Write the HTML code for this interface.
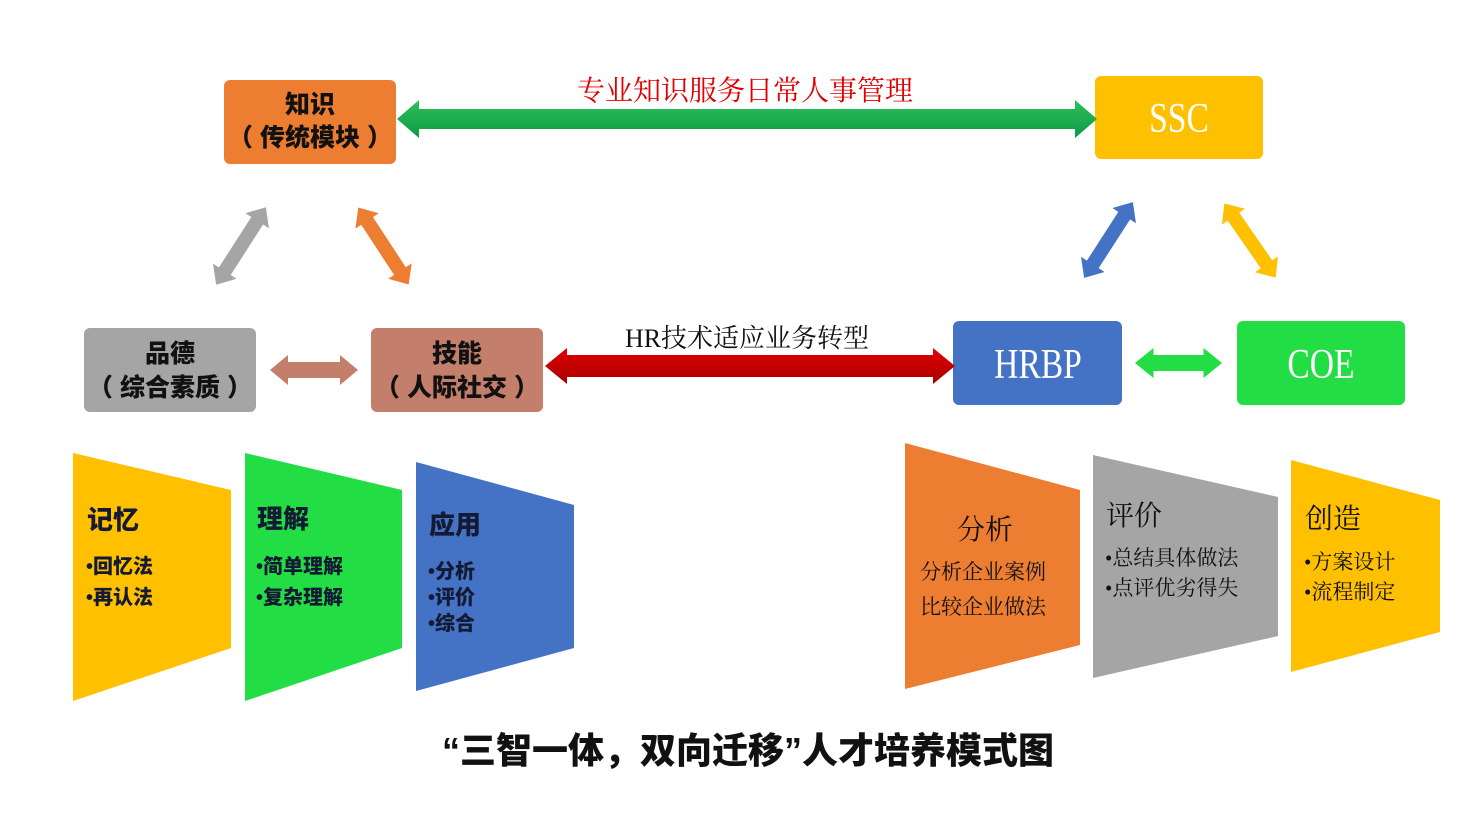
<!DOCTYPE html>
<html><head><meta charset="utf-8"><style>
body{margin:0;background:#fff;}
svg{display:block;}
.b{font-family:"Liberation Sans","Noto Sans CJK SC",sans-serif;font-weight:900;}
.s{font-family:"Liberation Serif","Noto Serif CJK SC",serif;}
</style></head><body>
<svg width="1478" height="832" viewBox="0 0 1478 832" xmlns="http://www.w3.org/2000/svg">
<defs>
<linearGradient id="gg" x1="0" y1="0" x2="0" y2="1"><stop offset="0" stop-color="#2fbf5a"/><stop offset="1" stop-color="#0c9a45"/></linearGradient>
<linearGradient id="rg" x1="0" y1="0" x2="0" y2="1"><stop offset="0" stop-color="#e00000"/><stop offset="1" stop-color="#a80000"/></linearGradient>
</defs>
<rect width="1478" height="832" fill="#fff"/>
<rect x="224" y="80" width="172" height="84" rx="6" fill="#ed7d31"/>
<rect x="1095" y="76" width="168" height="83" rx="6" fill="#ffc000"/>
<rect x="84" y="328" width="172" height="84" rx="6" fill="#a5a5a5"/>
<rect x="371" y="328" width="172" height="84" rx="6" fill="#c47f6c"/>
<rect x="953" y="321" width="169" height="84" rx="6" fill="#4472c4"/>
<rect x="1237" y="321" width="168" height="84" rx="6" fill="#22dd44"/>
<g class="b" font-size="25" fill="#111" text-anchor="middle">
<text x="310" y="113">知识</text><text x="310" y="146">（ 传统模块 ）</text>
<text x="170" y="362">品德</text><text x="170" y="396">（ 综合素质 ）</text>
<text x="457" y="362">技能</text><text x="457" y="396">（ 人际社交 ）</text>
</g>
<g class="s" font-size="42" fill="#fff" text-anchor="middle">
<text x="1179" y="132" transform="translate(1179 132) scale(0.8 1) translate(-1179 -132)">SSC</text>
<text x="1038" y="378" transform="translate(1038 378) scale(0.8 1) translate(-1038 -378)">HRBP</text>
<text x="1321" y="378" transform="translate(1321 378) scale(0.8 1) translate(-1321 -378)">COE</text>
</g>
<polygon fill="url(#gg)" points="397,119 419,100 419,109 1075,109 1075,100 1097,119 1075,138 1075,129 419,129 419,138"/>
<polygon fill="url(#rg)" points="545,366 567,348 567,355 933,355 933,348 955,366 933,384 933,377 567,377 567,384"/>
<text class="s" x="745" y="100" font-size="28" fill="#e00000" text-anchor="middle">专业知识服务日常人事管理</text>
<text class="s" x="747" y="347" font-size="26" fill="#111" text-anchor="middle">HR技术适应业务转型</text>
<g>
<polygon fill="#a5a5a5" transform="translate(241 246) rotate(-57.3)" points="-46,0 -30,-14 -30,-7 30,-7 30,-14 46,0 30,14 30,7 -30,7 -30,14"/>
<polygon fill="#ed7d31" transform="translate(383.5 246) rotate(56.8)" points="-46,0 -30,-14 -30,-7 30,-7 30,-14 46,0 30,14 30,7 -30,7 -30,14"/>
<polygon fill="#4472c4" transform="translate(1108.5 240) rotate(-57.2)" points="-45,0 -29,-14 -29,-7 29,-7 29,-14 45,0 29,14 29,7 -29,7 -29,14"/>
<polygon fill="#ffc000" transform="translate(1250 240.5) rotate(55.3)" points="-45,0 -29,-14 -29,-7 29,-7 29,-14 45,0 29,14 29,7 -29,7 -29,14"/>
<polygon fill="#c47f6c" transform="translate(314 370)" points="-44,0 -26,-15 -26,-8 26,-8 26,-15 44,0 26,15 26,8 -26,8 -26,15"/>
<polygon fill="#22dd44" transform="translate(1178.5 363)" points="-43.5,0 -25,-15 -25,-8 25,-8 25,-15 43.5,0 25,15 25,8 -25,8 -25,15"/>
</g>
<polygon fill="#ffc000" points="73,453 231,490 231,648 73,701"/>
<polygon fill="#22dd44" points="245,453 402,490 402,648 245,701"/>
<polygon fill="#4472c4" points="416,462 574,505 574,648 416,691"/>
<polygon fill="#ed7d31" points="905,443 1080,490 1080,645 905,689"/>
<polygon fill="#a5a5a5" points="1093,455 1278,497 1278,636 1093,678"/>
<polygon fill="#ffc000" points="1291,460 1440,500 1440,632 1291,672"/>
<g class="b" fill="#141a33">
<text x="87" y="529" font-size="26">记忆</text>
<text x="86" y="573" font-size="20">•回忆法</text>
<text x="86" y="604" font-size="20">•再认法</text>
<text x="257" y="528" font-size="26">理解</text>
<text x="256" y="573" font-size="20">•简单理解</text>
<text x="256" y="604" font-size="20">•复杂理解</text>
<text x="429" y="534" font-size="26">应用</text>
<text x="428" y="578" font-size="20">•分析</text>
<text x="428" y="604" font-size="20">•评价</text>
<text x="428" y="630" font-size="20">•综合</text>
</g>
<g class="s" fill="#111">
<text x="985" y="539" font-size="28" text-anchor="middle">分析</text>
<text x="983" y="579" font-size="21" text-anchor="middle">分析企业案例</text>
<text x="983" y="614" font-size="21" text-anchor="middle">比较企业做法</text>
<text x="1106" y="525" font-size="28">评价</text>
<text x="1105" y="565" font-size="21">•总结具体做法</text>
<text x="1105" y="595" font-size="21">•点评优劣得失</text>
<text x="1305" y="528" font-size="28">创造</text>
<text x="1304" y="569" font-size="21">•方案设计</text>
<text x="1304" y="599" font-size="21">•流程制定</text>
</g>
<text class="b" x="748" y="763" font-size="36" fill="#111" text-anchor="middle">“三智一体，双向迁移”人才培养模式图</text>
</svg>
</body></html>
